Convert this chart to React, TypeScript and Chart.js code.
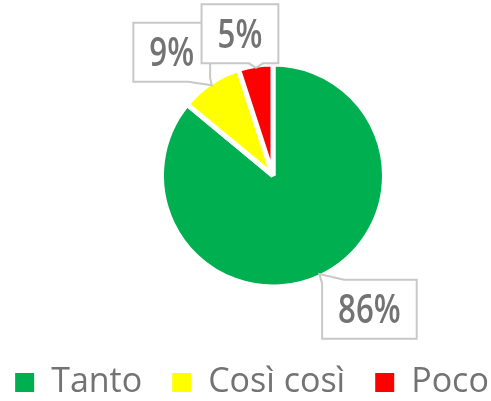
import React, { useEffect, useRef } from 'react';
import { Chart, registerables } from 'chart.js';

Chart.register(...registerables);

const categories = ['Tanto', 'Così così', 'Poco'];
const values = [86, 9, 5];
const colors = ['#00B050', '#FFFF00', '#FF0000'];
const labelOffsets = [
  [50, 35],
  [-40, -33],
  [-16, -34],
];

const FONT = "'Open Sans', 'Liberation Sans', Arial, sans-serif";
const TEXT_COLOR = '#737373';

function clamp(v: number, a: number, b: number) {
  return Math.max(a, Math.min(b, v));
}

function calloutPoints(l: number, t: number, r: number, b: number, tx: number, ty: number) {
  const ox = tx < l ? -1 : tx > r ? 1 : 0;
  const oy = ty < t ? -1 : ty > b ? 1 : 0;
  const H = 22;
  const V = 4;
  const hw = 7;
  const pts: number[][] = [];
  if (ox === -1 && oy === -1) pts.push([l, t + V], [tx, ty], [l + H, t]);
  else pts.push([l, t]);
  if (oy === -1 && ox === 0) {
    const c = clamp(tx, l + hw, r - hw);
    pts.push([c - hw, t], [tx, ty], [c + hw, t]);
  }
  if (ox === 1 && oy === -1) pts.push([r - H, t], [tx, ty], [r, t + V]);
  else pts.push([r, t]);
  if (ox === 1 && oy === 0) {
    const c = clamp(ty, t + hw, b - hw);
    pts.push([r, c - hw], [tx, ty], [r, c + hw]);
  }
  if (ox === 1 && oy === 1) pts.push([r, b - V], [tx, ty], [r - H, b]);
  else pts.push([r, b]);
  if (oy === 1 && ox === 0) {
    const c = clamp(tx, l + hw, r - hw);
    pts.push([c + hw, b], [tx, ty], [c - hw, b]);
  }
  if (ox === -1 && oy === 1) pts.push([l + H, b], [tx, ty], [l, b - V]);
  else pts.push([l, b]);
  if (ox === -1 && oy === 0) {
    const c = clamp(ty, t + hw, b - hw);
    pts.push([l, c + hw], [tx, ty], [l, c - hw]);
  }
  return pts;
}

const calloutPlugin = {
  id: 'callouts',
  afterDatasetsDraw(chart: any, _args: any, opts: any) {
    const ctx = chart.ctx;
    const meta = chart.getDatasetMeta(0);
    const ds = chart.data.datasets[0];
    meta.data.forEach((arc: any, i: number) => {
      const { x, y, startAngle, endAngle, outerRadius } = arc.getProps(
        ['x', 'y', 'startAngle', 'endAngle', 'outerRadius'],
        true
      );
      const mid = (startAngle + endAngle) / 2;
      const rad = outerRadius - opts.inset;
      const ax = x + Math.cos(mid) * rad;
      const ay = y + Math.sin(mid) * rad;
      const [dx, dy] = opts.offsets[i];
      const cx = ax + dx;
      const cy = ay + dy;
      const text = ds.data[i] + '%';
      ctx.save();
      ctx.font = `${opts.weight} ${opts.size}px ${FONT}`;
      const tw = ctx.measureText(text).width * opts.scaleX;
      const w = tw + opts.padX * 2;
      const h = opts.height;
      const l = cx - w / 2;
      const t = cy - h / 2;
      const r = cx + w / 2;
      const b = cy + h / 2;
      const pts = calloutPoints(l, t, r, b, ax, ay);
      ctx.beginPath();
      pts.forEach((p, k) => (k === 0 ? ctx.moveTo(p[0], p[1]) : ctx.lineTo(p[0], p[1])));
      ctx.closePath();
      ctx.fillStyle = '#ffffff';
      ctx.fill();
      ctx.strokeStyle = opts.borderColor;
      ctx.lineWidth = 2;
      ctx.lineJoin = 'miter';
      ctx.stroke();
      ctx.translate(cx, cy + opts.size * 0.357);
      ctx.scale(opts.scaleX, 1);
      ctx.textAlign = 'center';
      ctx.textBaseline = 'alphabetic';
      ctx.fillStyle = opts.color;
      ctx.fillText(text, 0, 0);
      ctx.restore();
    });
  },
};

export default function App() {
  const ref = useRef<HTMLCanvasElement | null>(null);
  useEffect(() => {
    if (!ref.current) return;
    const chart = new Chart(ref.current, {
      type: 'pie',
      data: {
        labels: categories,
        datasets: [
          {
            data: values,
            backgroundColor: colors,
            borderColor: '#ffffff',
            borderWidth: 5,
            radius: 111.5,
          } as any,
        ],
      },
      options: {
        responsive: true,
        maintainAspectRatio: false,
        animation: false,
        layout: { padding: { left: -20.5, right: -33.5, top: 15.5, bottom: -8.5 } },
        plugins: {
          title: {
            display: true,
            position: 'left',
            text: '',
            font: { size: 1, lineHeight: 1 },
            padding: { top: 74.5, bottom: 0 },
          },
          legend: {
            position: 'bottom',
            labels: {
              font: { family: FONT, size: 34 },
              color: TEXT_COLOR,
              boxWidth: 19,
              boxHeight: 19,
              padding: 30,
              generateLabels: () =>
                categories.map((c, i) => ({
                  text: c,
                  fillStyle: colors[i],
                  strokeStyle: colors[i],
                  lineWidth: 0,
                  hidden: false,
                  index: i,
                  fontColor: TEXT_COLOR,
                })),
            },
          },
          tooltip: { enabled: false },
          callouts: {
            offsets: labelOffsets,
            inset: 2.5,
            size: 39,
            weight: 600,
            scaleX: 0.8,
            padX: 16,
            height: 59,
            color: '#737373',
            borderColor: '#c8c8c8',
          },
        } as any,
      },
      plugins: [calloutPlugin],
    });
    return () => chart.destroy();
  }, []);
  return (
    <div style={{ position: 'fixed', left: 0, top: 0, width: 491, height: 401 }}>
      <canvas ref={ref} style={{ display: 'block' }} />
    </div>
  );
}
